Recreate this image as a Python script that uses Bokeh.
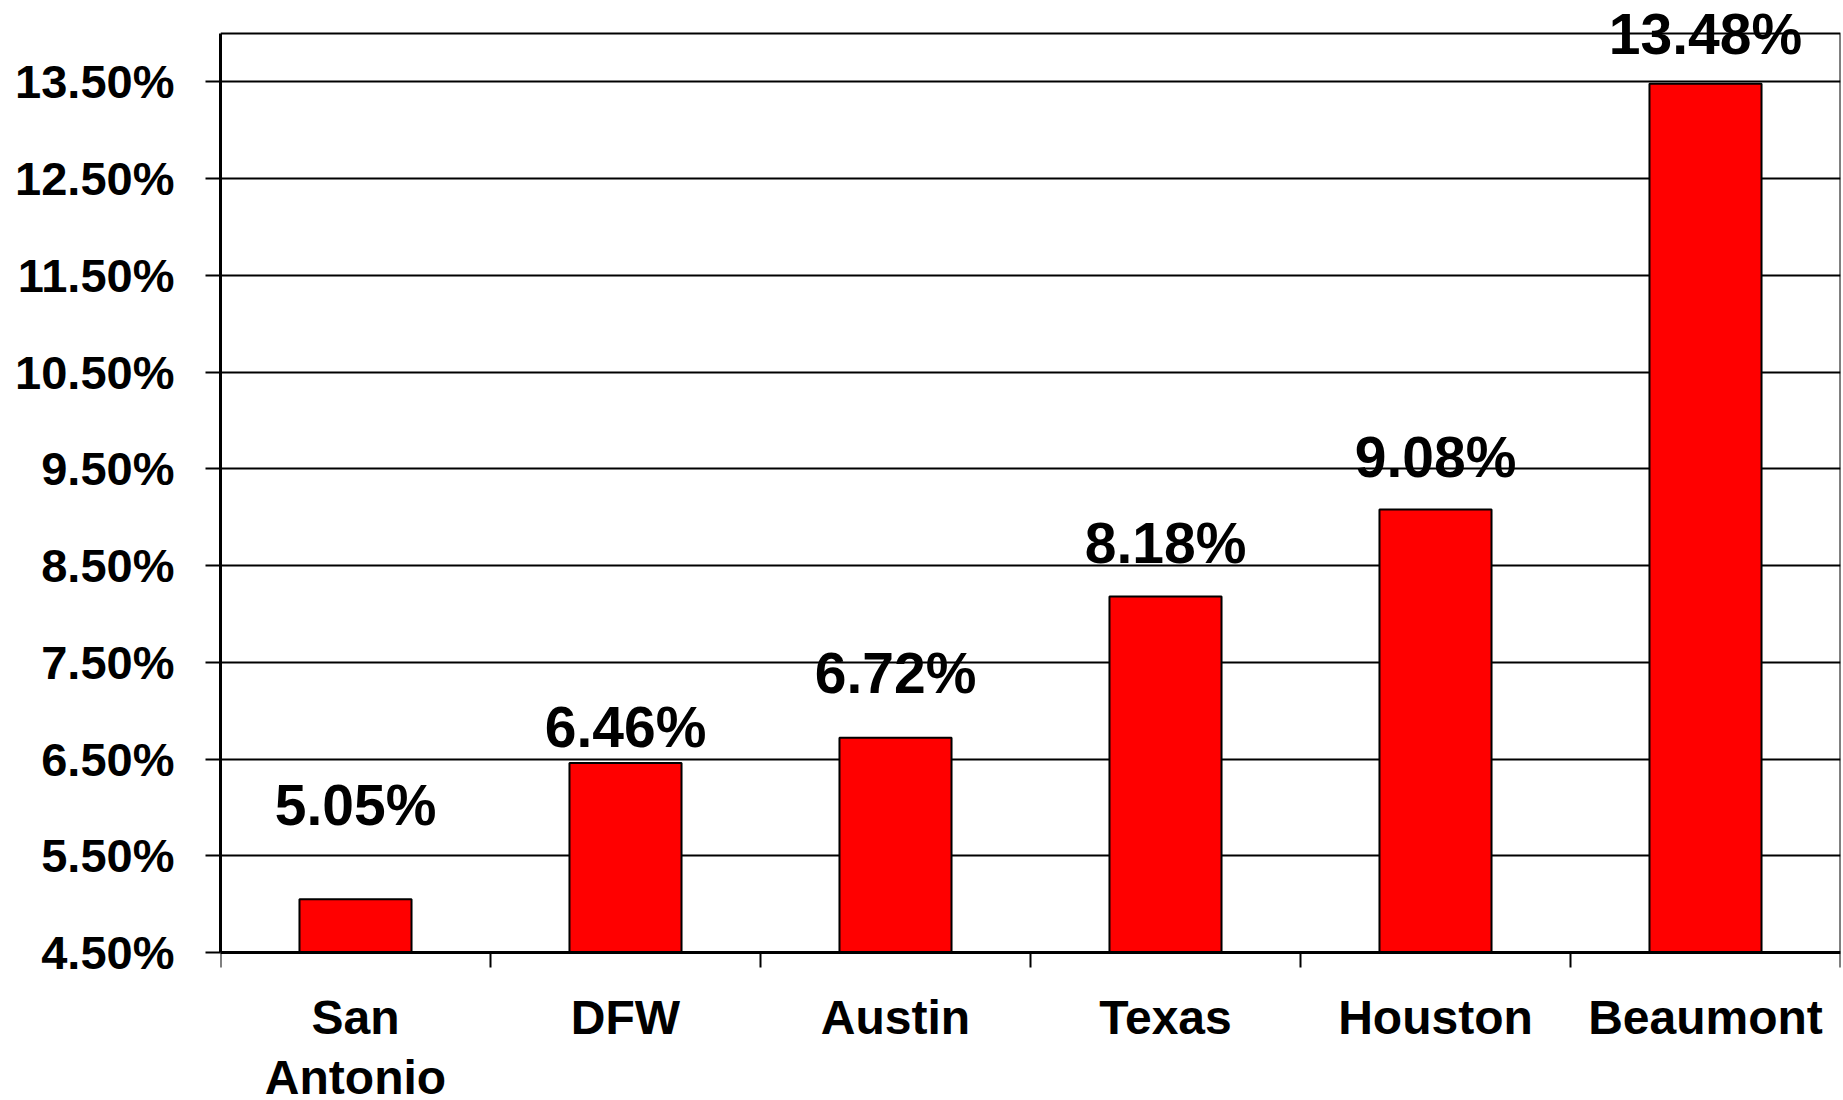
from bokeh.plotting import figure
from bokeh.models import Range1d, FixedTicker, PrintfTickFormatter, ColumnDataSource, LabelSet
from bokeh.core.properties import value
from bokeh.embed import file_html
from bokeh.resources import INLINE

categories = ["San\nAntonio", "DFW", "Austin", "Texas", "Houston", "Beaumont"]
values = [5.05, 6.46, 6.72, 8.18, 9.08, 13.48]
value_labels = ["5.05%", "6.46%", "6.72%", "8.18%", "9.08%", "13.48%"]
y_ticks = [4.5, 5.5, 6.5, 7.5, 8.5, 9.5, 10.5, 11.5, 12.5, 13.5]
label_lift = [0.97, 0.37, 0.67, 0.55, 0.54, 0.51]

Y_MIN, Y_MAX = 4.5, 14.0
# visible range extends beyond the boxed area so that labels are not clipped
VIEW_BOTTOM, VIEW_TOP = 2.97, 14.341
FONT = "Liberation Sans"

n = len(categories)
centers = [i + 0.5 for i in range(n)]
bounds = [float(i) for i in range(n + 1)]

p = figure(width=1843, height=1100, output_backend="svg", toolbar_location=None,
           x_range=Range1d(0, n), y_range=Range1d(VIEW_BOTTOM, VIEW_TOP),
           min_border_left=220, min_border_top=0, min_border_bottom=0, min_border_right=3)
p.background_fill_color = "white"
p.border_fill_color = "white"
p.outline_line_color = None

p.vbar(x=centers, top=values, bottom=Y_MIN, width=0.415,
       fill_color="#FF0000", line_color="black", line_width=2)

# y axis
p.yaxis.bounds = (Y_MIN, Y_MAX)
p.yaxis.ticker = FixedTicker(ticks=y_ticks, minor_ticks=[])
p.yaxis.formatter = PrintfTickFormatter(format="%.2f%%")
p.yaxis.major_label_text_font = FONT
p.yaxis.major_label_text_font_style = "bold"
p.yaxis.major_label_text_font_size = "47px"
p.yaxis.major_label_text_color = "black"
p.yaxis.major_tick_out = 15
p.yaxis.major_tick_in = 0
p.yaxis.major_tick_line_width = 2
p.yaxis.major_tick_line_color = "black"
p.yaxis.axis_line_width = 3
p.yaxis.axis_line_color = "black"
p.yaxis.major_label_standoff = 31

# x axis
p.xaxis.fixed_location = Y_MIN
p.xaxis.ticker = FixedTicker(ticks=centers, minor_ticks=bounds)
p.xaxis.major_label_overrides = {c: lab for c, lab in zip(centers, categories)}
p.xaxis.major_label_text_font = FONT
p.xaxis.major_label_text_font_style = "bold"
p.xaxis.major_label_text_font_size = "48px"
p.xaxis.major_label_text_line_height = 1.12
p.xaxis.major_label_text_color = "black"
p.xaxis.major_tick_out = 0
p.xaxis.major_tick_in = 0
p.xaxis.minor_tick_out = 15
p.xaxis.minor_tick_in = 0
p.xaxis.minor_tick_line_width = 2
p.xaxis.minor_tick_line_color = "black"
p.xaxis.axis_line_width = 3
p.xaxis.axis_line_color = "black"
p.xaxis.major_label_standoff = 24

p.xgrid.visible = False
p.ygrid.ticker = FixedTicker(ticks=y_ticks, minor_ticks=[])
p.ygrid.grid_line_color = "black"
p.ygrid.grid_line_width = 2
p.ygrid.grid_line_alpha = 1.0

# top and right edges of the plot box
p.line(x=[0, n, n], y=[Y_MAX, Y_MAX, Y_MIN], line_color="black", line_width=2)

src = ColumnDataSource(dict(x=centers, y=[v + d for v, d in zip(values, label_lift)], t=value_labels))
labels = LabelSet(x="x", y="y", text="t", source=src, text_align="center", text_baseline="middle",
                  text_font=value(FONT), text_font_style="bold", text_font_size="57px", text_color="black")
p.add_layout(labels)

open("out.html", "w").write(file_html(p, INLINE))
